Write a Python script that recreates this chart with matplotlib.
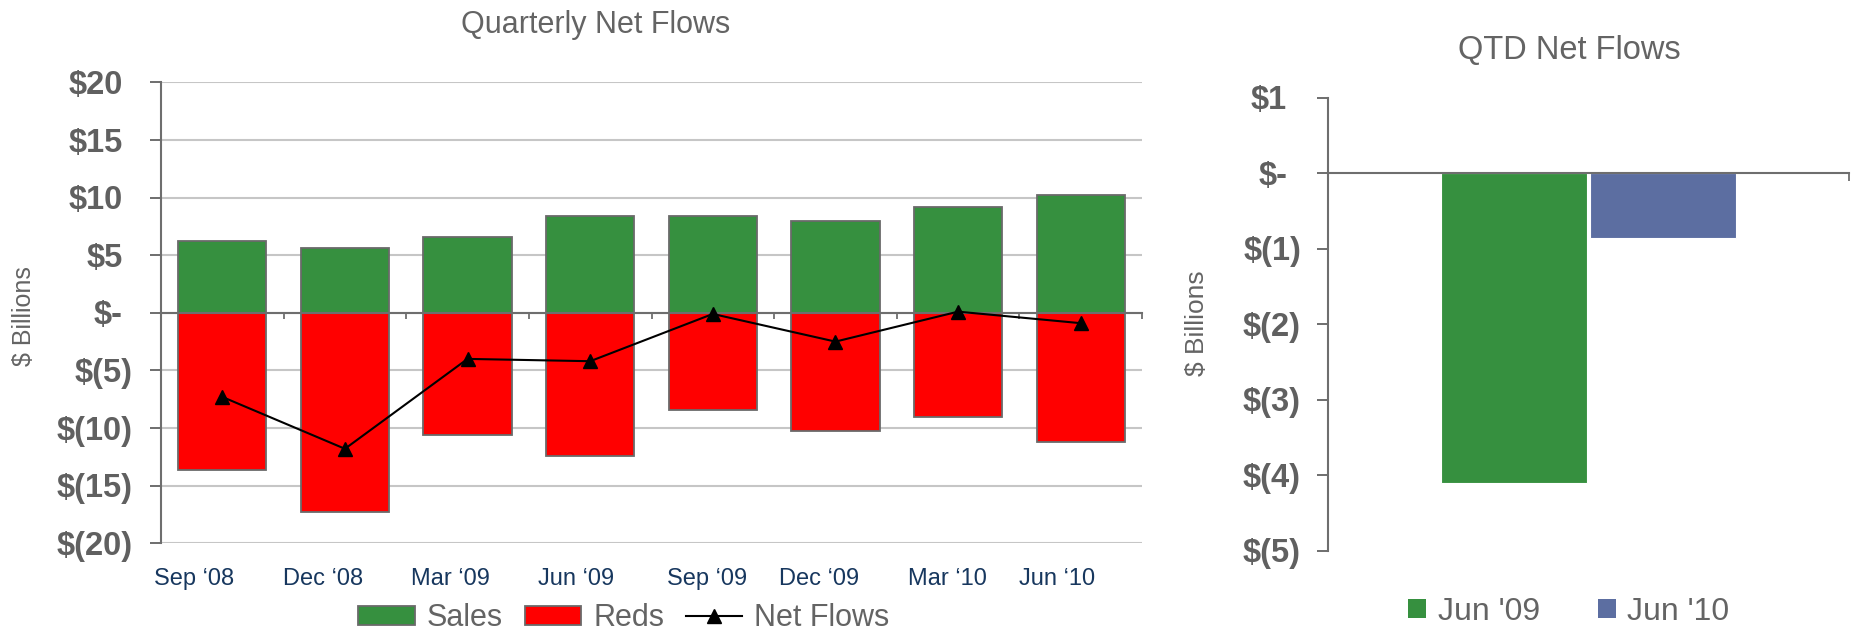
import numpy as np
import matplotlib
matplotlib.use("Agg")
import matplotlib.pyplot as plt
from matplotlib.transforms import blended_transform_factory, ScaledTranslation
from matplotlib.patches import Patch
from matplotlib.lines import Line2D

plt.rcParams['font.family'] = ['Liberation Sans', 'DejaVu Sans']

# ---- data -------------------------------------------------------------
quarters = ["Sep \u201808", "Dec \u201808", "Mar \u201809", "Jun \u201809",
            "Sep \u201809", "Dec \u201809", "Mar \u201810", "Jun \u201810"]
sales = [6.2, 5.6, 6.6, 8.4, 8.4, 8.0, 9.2, 10.25]
reds = [-13.6, -17.3, -10.6, -12.4, -8.4, -10.25, -9.0, -11.2]
net_flows = [-7.3, -11.8, -4.0, -4.2, -0.1, -2.5, 0.1, -0.9]

left_ticks = [20, 15, 10, 5, 0, -5, -10, -15, -20]
left_tick_labels = ["$20", "$15", "$10", "$5", "$-", "$(5)", "$(10)", "$(15)", "$(20)"]

qtd_periods = ["Jun '09", "Jun '10"]
qtd_net_flows = [-4.10, -0.86]
right_ticks = [1, 0, -1, -2, -3, -4, -5]
right_tick_labels = ["$1", "$-", "$(1)", "$(2)", "$(3)", "$(4)", "$(5)"]

# ---- style ------------------------------------------------------------
GREEN = '#36903F'
RED = '#FF0000'
BLUE = '#5C6EA1'
EDGE = '#6A6A6A'
AXIS = '#6E6E6E'
GRID = '#C6C6C6'
TICK = '#606060'
TITLE = '#646464'
NAVY = '#17375E'

W, H = 1856, 634
DPI = 100
fig = plt.figure(figsize=(W / DPI, H / DPI), dpi=DPI)
fig.patch.set_facecolor('white')


def rect(left, top, right, bottom):
    return [left / W, 1 - bottom / H, (right - left) / W, (bottom - top) / H]


def px(dx, dy=0.0):
    return ScaledTranslation(dx / DPI, dy / DPI, fig.dpi_scale_trans)


def style_axes(ax):
    for side in ('top', 'right'):
        ax.spines[side].set_visible(False)
    for side in ('left', 'bottom'):
        ax.spines[side].set_color(AXIS)
        ax.spines[side].set_linewidth(1.5)
    ax.spines['bottom'].set_position(('data', 0))
    ax.tick_params(axis='y', direction='out', length=8, width=1.4,
                   color=AXIS, labelleft=False)
    ax.tick_params(axis='x', direction='out', width=1.3,
                   color=AXIS, labelbottom=False)


def y_labels(ax, ticks, labels, paren_dx, plain_dx, size):
    tr = blended_transform_factory(ax.transAxes, ax.transData)
    drop = -0.358 * size * DPI / 72
    for v, lab in zip(ticks, labels):
        dx = paren_dx if '(' in lab else plain_dx
        ax.text(0, v, lab, transform=tr + px(dx, drop), ha='right',
                va='baseline', fontsize=size, fontweight='bold',
                color=TICK, parse_math=False)


# ---- quarterly net flows ----------------------------------------------
ax1 = fig.add_axes(rect(161, 82.3, 1142, 543.3))
x = np.arange(len(quarters))
ax1.bar(x, sales, width=0.72, color=GREEN, edgecolor=EDGE, linewidth=1.3, zorder=2)
ax1.bar(x, reds, width=0.72, color=RED, edgecolor=EDGE, linewidth=1.3, zorder=2)
ax1.plot(x, net_flows, color='black', lw=1.5, marker='^', ms=10.5, zorder=4)
ax1.set_xlim(-0.5, len(quarters) - 0.5)
ax1.set_ylim(-20, 20)
ax1.set_yticks(left_ticks)
ax1.set_xticks(np.arange(-0.5, len(quarters), 1.0))
ax1.yaxis.grid(True, color=GRID, lw=1.5)
ax1.set_axisbelow(True)
style_axes(ax1)
ax1.tick_params(axis='x', length=4.5)
y_labels(ax1, left_ticks, left_tick_labels, -28, -38.5, 23.5)

label_shift = [-0.23, -0.18, -0.14, -0.115, -0.045, -0.13, -0.086, -0.19]
xl_tr = blended_transform_factory(ax1.transData, ax1.transAxes)
for i, (lab, s) in enumerate(zip(quarters, label_shift)):
    ax1.text(i + s, -0.0905, lab, transform=xl_tr, ha='center',
             va='baseline', fontsize=17, color=NAVY)

fig.text(596 / W, 1 - 33 / H, "Quarterly Net Flows", ha='center',
         va='baseline', fontsize=22, color=TITLE)
fig.text(24 / W, 1 - 316 / H, "$ Billions", rotation=90, ha='center',
         va='center', fontsize=18, color=TITLE, parse_math=False)

handles1 = [
    Patch(facecolor=GREEN, edgecolor=EDGE, linewidth=1.3, label='Sales'),
    Patch(facecolor=RED, edgecolor=EDGE, linewidth=1.3, label='Reds'),
    Line2D([], [], color='black', lw=1.5, marker='^', ms=10.5, label='Net Flows'),
]
fig.legend(handles=handles1, loc='center', bbox_to_anchor=(624 / W, 1 - 618 / H),
           ncol=3, frameon=False, fontsize=22, handlelength=1.85,
           handleheight=0.6, handletextpad=0.4, columnspacing=0.7,
           labelcolor=TITLE, borderpad=0, borderaxespad=0)

# ---- QTD net flows ----------------------------------------------------
ax2 = fig.add_axes(rect(1328, 97.5, 1849, 550.5))
bar_offsets = [-0.143, 0.143]
for off, val, col, lab in zip(bar_offsets, qtd_net_flows, [GREEN, BLUE], qtd_periods):
    ax2.bar(off, val, width=0.282, color=col, edgecolor='white', linewidth=0.8,
            label=lab, zorder=2)
ax2.set_xlim(-0.5, 0.5)
ax2.set_ylim(-5, 1)
ax2.set_yticks(right_ticks)
ax2.set_xticks([-0.5, 0.5])
style_axes(ax2)
ax2.tick_params(axis='x', length=6)
y_labels(ax2, right_ticks, right_tick_labels, -27, -41, 23.5)

fig.text(1569 / W, 1 - 59 / H, "QTD Net Flows", ha='center',
         va='baseline', fontsize=23.5, color=TITLE)
fig.text(1197 / W, 1 - 323 / H, "$ Billions", rotation=90, ha='center',
         va='center', fontsize=19, color=TITLE, parse_math=False)

handles2 = [Patch(facecolor=c, edgecolor='none', label=l)
            for c, l in zip([GREEN, BLUE], qtd_periods)]
fig.legend(handles=handles2, loc='center', bbox_to_anchor=(1569 / W, 1 - 612 / H),
           ncol=2, frameon=False, fontsize=23, handlelength=0.56,
           handleheight=0.56, handletextpad=0.37, columnspacing=1.8,
           labelcolor=TITLE, borderpad=0, borderaxespad=0)

fig.savefig('out.png', dpi=DPI, facecolor='white')
